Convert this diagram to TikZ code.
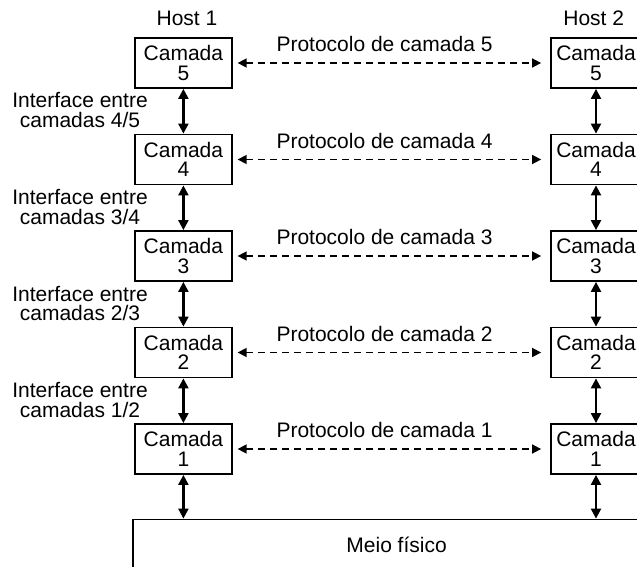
\documentclass[tikz,border=0pt]{standalone}
\usepackage{fontspec}
\setmainfont{Liberation Sans}
\usetikzlibrary{arrows.meta}
\begin{document}
\begin{tikzpicture}[x=1pt,y=-1pt,
  every node/.style={font=\fontsize{21}{19.5}\selectfont, inner sep=0pt},
  layerbox/.style={draw, line width=1.8pt, minimum height=50pt, align=center},
  lbox/.style={layerbox, minimum width=96.7pt},
  rbox/.style={layerbox, minimum width=90pt},
  iface/.style={{Triangle[length=10pt,width=10pt]}-{Triangle[length=10pt,width=10pt]}, line width=2.2pt},
  proto/.style={{Triangle[length=9pt,width=9pt]}-{Triangle[length=9pt,width=9pt]}, line width=1.6pt, dash pattern=on 7pt off 5pt, shorten <=5pt, shorten >=9pt},
  lbl/.style={anchor=base, align=center}]
\clip (0,0) rectangle (637,567);
\fill[white] (0,0) rectangle (637,567);

\node[lbl] (h1) at (187,26) {Host 1};
\node[lbl] (h2) at (593.7,26) {Host 2};

\foreach \n/\y in {5/63, 4/159.5, 3/256, 2/352.5, 1/449} {
  \node[lbox] (L\n) at (183.4,\y) {Camada\\\n};
  \node[rbox] (R\n) at (596,\y) {Camada\\\n};
  \draw[proto] (L\n.east) -- (R\n.west);
  \node[lbl] (P\n) at (384.5,\y-11.3) {Protocolo de camada \n};
}

\node[draw, line width=1.8pt, minimum width=526.7pt, minimum height=50pt] (M) at (396.6,544.5) {Meio físico};

\foreach \a/\b in {5/4, 4/3, 3/2, 2/1} {
  \draw[iface] (L\a.south) -- (L\b.north);
  \draw[iface] (R\a.south) -- (R\b.north);
}
\draw[iface] (L1.south) -- (L1.south |- M.north);
\draw[iface] (R1.south) -- (R1.south |- M.north);

\node[lbl] (I45) at (80,127.5) {Interface entre\\camadas 4/5};
\node[lbl] (I34) at (80,224) {Interface entre\\camadas 3/4};
\node[lbl] (I23) at (80,320.5) {Interface entre\\camadas 2/3};
\node[lbl] (I12) at (80,417) {Interface entre\\camadas 1/2};
\end{tikzpicture}
\end{document}
